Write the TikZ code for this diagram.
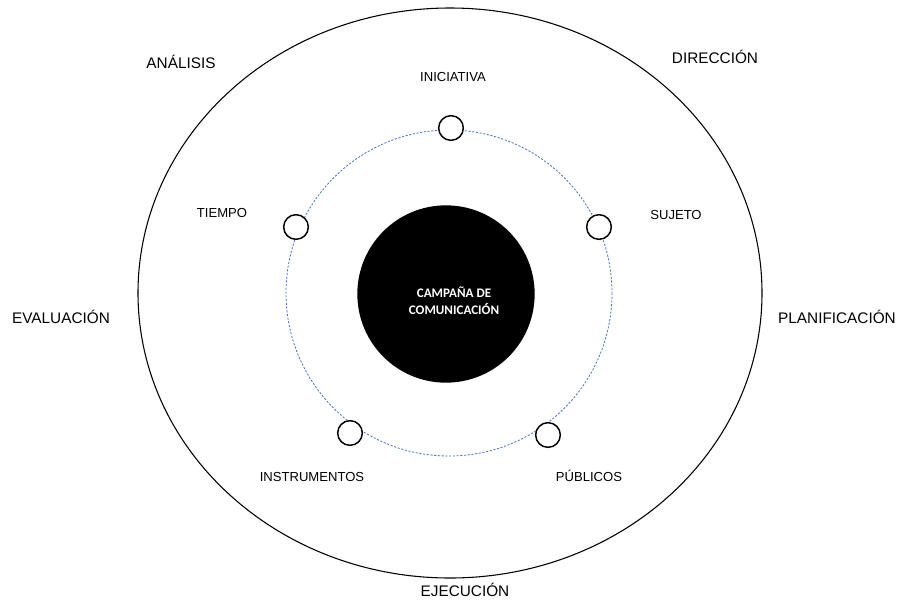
\documentclass[tikz,border=0pt]{standalone}
\usepackage{fontspec}
\setmainfont{Liberation Sans}
\newfontfamily\carlito{Carlito}
\usepackage{xcolor}
\definecolor{ringblue}{RGB}{68,114,196}

\tikzset{
	stage/.style={inner sep=0pt, anchor=base, font=\fontsize{11.5}{13}\selectfont},
	factor/.style={inner sep=0pt, anchor=base, font=\fontsize{9.8}{12}\selectfont},
	dot/.style={circle, draw, fill=white, line width=1.1pt, inner sep=0pt, minimum size=18.5pt},
	hub/.style={circle, fill=black, inner sep=0pt, minimum size=133pt},
	hubtext/.style={text=white, align=center, inner sep=0pt, font=\carlito\bfseries\fontsize{9.8}{12.8}\selectfont}
}

\begin{document}
\begin{tikzpicture}[x=0.75pt, y=-0.75pt]
	\useasboundingbox (0,0) rectangle (900,601);
	% outer ring and dashed orbit
	\draw[line width=0.8pt] (450,293) ellipse [x radius=312, y radius=285];
	\draw[ringblue, line width=0.6pt, dash pattern=on 1.6pt off 1.2pt] (449,293) circle [radius=163];
	%%%%%
	\node[hub] (campana) at (446,294) {};
	\node[hubtext] (campanatxt) at (454,301) {CAMPAÑA DE\\COMUNICACIÓN};
	%%%%%
	\node[dot] (iniciativa) at (451,128) {};
	\node[dot] (sujeto) at (599,227) {};
	\node[dot] (publicos) at (548,435) {};
	\node[dot] (instrumentos) at (350,433) {};
	\node[dot] (tiempo) at (296,227) {};
	%%%%%
	\node[factor] (iniciativatxt) at (453,81) {INICIATIVA};
	\node[factor] (sujetotxt) at (676,219) {SUJETO};
	\node[factor] (publicostxt) at (589,481) {PÚBLICOS};
	\node[factor] (instrumentostxt) at (312,481) {INSTRUMENTOS};
	\node[factor] (tiempotxt) at (222,217) {TIEMPO};
	%%%%%
	\node[stage] (analisis) at (181,68) {ANÁLISIS};
	\node[stage] (direccion) at (715,63) {DIRECCIÓN};
	\node[stage] (planificacion) at (837,323) {PLANIFICACIÓN};
	\node[stage] (ejecucion) at (465,596.5) {EJECUCIÓN};
	\node[stage] (evaluacion) at (61,323) {EVALUACIÓN};
\end{tikzpicture}
\end{document}
